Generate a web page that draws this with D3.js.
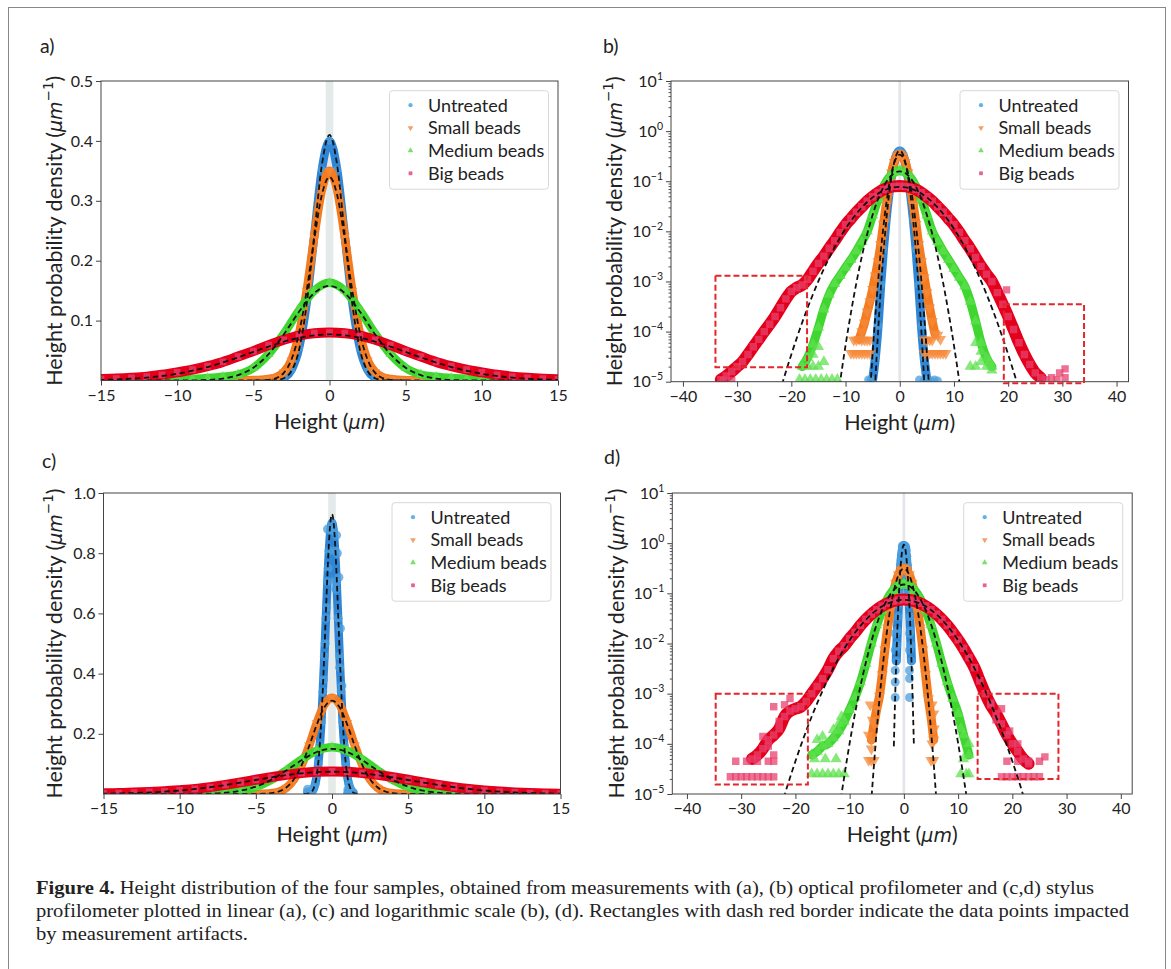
<!DOCTYPE html>
<html>
<head>
<meta charset="utf-8">
<script src="https://cdn.jsdelivr.net/npm/d3@7"></script>
<style>
  body { margin: 0; background: #fff; }
  svg { display: block; }
</style>
</head>
<body>
<script>
// ---- data ----
const seriesNames = ["Untreated", "Small beads", "Medium beads", "Big beads"];

const xTicksLin = [-15, -10, -5, 0, 5, 10, 15];
const xTicksLog = [-40, -30, -20, -10, 0, 10, 20, 30, 40];
const yTicksA = [0.1, 0.2, 0.3, 0.4, 0.5];
const yTicksC = [0.2, 0.4, 0.6, 0.8, 1.0];
const yDecades = [-5, -4, -3, -2, -1, 0, 1];
const minorMultipliers = [2, 3, 4, 5, 6, 7, 8, 9];
const zeroBand = [-0.25, 0.25];

// optical profilometer (panels a, b): dense point bands and scattered tail points
const optUntreated = [[-5,1.1e-5],[-4.5,3e-5],[-4,1.3e-4],[-3.5,8.7e-4],[-3,0.0044],[-2.5,0.0175],[-2,0.054],[-1.5,0.13],[-1,0.242],[-0.5,0.352],[0,0.40],[0.5,0.352],[1,0.242],[1.5,0.13],[2,0.054],[2.5,0.0175],[3,0.0044],[3.5,8.7e-4],[4,1.3e-4],[4.5,3e-5],[5,1.1e-5]];
const optUntreatedTail = [[-5.8,1.1e-5],[-5.4,1.05e-5],[3.6,1.1e-5],[4.4,1.05e-5],[5.2,1.1e-5],[5.8,1.05e-5],[6.4,1.1e-5],[7.0,1.05e-5]];
const optSmall = [[-7.5,7e-5],[-7,1e-4],[-6.5,1.5e-4],[-6,2.5e-4],[-5.5,4e-4],[-5,7e-4],[-4.5,0.0013],[-4,0.0025],[-3.5,0.0055],[-3,0.014],[-2.5,0.034],[-2,0.078],[-1.5,0.15],[-1,0.24],[-0.5,0.318],[0,0.35],[0.5,0.318],[1,0.24],[1.5,0.15],[2,0.078],[2.5,0.034],[3,0.014],[3.5,0.0055],[4,0.0025],[4.5,0.0012],[5,6e-4],[5.5,3e-4],[6,1.6e-4],[6.5,9e-5]];
const optSmallTail = [[-9,3.7e-5],[-8.5,3.7e-5],[-8,3.7e-5],[-7.5,3.7e-5],[-7,3.7e-5],[-6.5,3.7e-5],[-6,3.7e-5],[-5.5,3.7e-5],[-8.5,6.8e-5],[-8,6.8e-5],[-7,6.8e-5],[-6.5,6.8e-5],[-6,6.8e-5],[-5.5,6.8e-5],[4.5,6.8e-5],[5,6.8e-5],[5.5,6.8e-5],[6,6.8e-5],[7,8.5e-5],[7.5,7e-5],[4.5,3.7e-5],[5,3.7e-5],[5.5,3.7e-5],[6,3.7e-5],[6.5,3.7e-5],[7,3.7e-5],[7.5,3.7e-5],[8,3.7e-5],[8.5,3.7e-5]];
const optMedium = [[-18,2e-5],[-17,3e-5],[-16,5.5e-5],[-15,1.2e-4],[-14,2.8e-4],[-13,5.5e-4],[-12,9e-4],[-11,0.0013],[-10,0.0019],[-9,0.0027],[-8,0.0040],[-7,0.0062],[-6,0.0100],[-5,0.021],[-4,0.044],[-3,0.078],[-2,0.117],[-1,0.150],[0,0.163],[1,0.150],[2,0.117],[3,0.078],[4,0.044],[5,0.021],[6,0.0100],[7,0.0062],[8,0.0040],[9,0.0027],[10,0.0018],[11,0.0012],[12,8e-4],[13,4e-4],[14,1.6e-4],[15,6e-5],[16,3e-5],[17,2e-5]];
const optMediumTail = [[-18.5,1.1e-5],[-17.5,1.1e-5],[-16.5,1.1e-5],[-15.5,1.1e-5],[-14.5,1.1e-5],[-13.5,1.1e-5],[-12.5,1.1e-5],[-11.5,1.1e-5],[-17,2e-5],[-16,2e-5],[-15,2e-5],[-14,2.5e-5],[-16,3.5e-5],[-15,5e-5],[13,2e-5],[14,2e-5],[15,2.5e-5],[16,2e-5],[17,1.7e-5],[15,4e-5],[14,6e-5],[16.5,2.5e-5]];
const optBig = [[-33,1.1e-5],[-32,1.3e-5],[-31,1.6e-5],[-30,2e-5],[-29,2.5e-5],[-28,3.5e-5],[-27,5e-5],[-26,7e-5],[-25,1e-4],[-24,1.4e-4],[-23,2e-4],[-22,3e-4],[-21,4.5e-4],[-20,6.3e-4],[-19,7.5e-4],[-18,8.5e-4],[-17,0.0011],[-16,0.0016],[-15,0.0023],[-14,0.0032],[-13,0.0046],[-12,0.0065],[-11,0.0095],[-10,0.0135],[-9,0.018],[-8,0.024],[-7,0.031],[-6,0.040],[-5,0.049],[-4,0.059],[-3,0.068],[-2,0.075],[-1,0.079],[0,0.080],[1,0.079],[2,0.075],[3,0.068],[4,0.059],[5,0.049],[6,0.040],[7,0.031],[8,0.024],[9,0.018],[10,0.0135],[11,0.0095],[12,0.0065],[13,0.0045],[14,0.003],[15,0.002],[16,0.0014],[17,0.001],[18,6e-4],[19,3.5e-4],[20,2e-4],[21,1.1e-4],[22,6e-5],[23,3.5e-5],[24,2.2e-5],[25,1.5e-5],[26,1.2e-5]];
const optBigTail = [[19.7,6.8e-4],[27,1.1e-5],[28,1.2e-5],[29,1.1e-5],[29.5,1.5e-5],[30.5,1.8e-5],[30.5,1.2e-5],[-32.5,1.05e-5],[-31,1.05e-5]];

// gaussian fits (dashed), optical
const optFitUntreated = [[-5,9e-7],[-4.5,1.07e-5],[-4,9.9e-5],[-3.5,6.9e-4],[-3,0.00377],[-2.5,0.0158],[-2,0.051],[-1.5,0.127],[-1,0.2435],[-0.5,0.36],[0,0.41],[0.5,0.36],[1,0.2435],[1.5,0.127],[2,0.051],[2.5,0.0158],[3,0.00377],[3.5,6.9e-4],[4,9.9e-5],[4.5,1.07e-5],[5,9e-7]];
const optFitSmall = [[-6,6.7e-7],[-5.5,5.4e-6],[-5,3.7e-5],[-4.5,2.08e-4],[-4,9.9e-4],[-3.5,0.00388],[-3,0.0127],[-2.5,0.0347],[-2,0.0789],[-1.5,0.1495],[-1,0.236],[-0.5,0.31],[0,0.34],[0.5,0.31],[1,0.236],[1.5,0.1495],[2,0.0789],[2.5,0.0347],[3,0.0127],[3.5,0.00388],[4,9.9e-4],[4.5,2.08e-4],[5,3.7e-5],[5.5,5.4e-6],[6,6.7e-7]];
const optFitMedium = [[-12,1.56e-6],[-11,9.9e-6],[-10,5.3e-5],[-9,2.4e-4],[-8,9.4e-4],[-7,0.00313],[-6,0.00887],[-5,0.0214],[-4,0.0439],[-3,0.0769],[-2,0.1147],[-1,0.146],[0,0.158],[1,0.146],[2,0.1147],[3,0.0769],[4,0.0439],[5,0.0214],[6,0.00887],[7,0.00313],[8,9.4e-4],[9,2.4e-4],[10,5.3e-5],[11,9.9e-6],[12,1.56e-6]];
const optFitBig = [[-24,1.2e-6],[-22,7e-6],[-20,3.5e-5],[-18,1.52e-4],[-16,5.6e-4],[-14,0.00178],[-12,0.00483],[-10,0.01125],[-8,0.0225],[-6,0.0385],[-4,0.0566],[-2,0.0713],[0,0.077],[2,0.0713],[4,0.0566],[6,0.0385],[8,0.0225],[10,0.01125],[12,0.00483],[14,0.00178],[16,5.6e-4],[18,1.52e-4],[20,3.5e-5],[22,7e-6],[24,1.2e-6]];

// stylus profilometer (panels c, d)
const stUntreated = [[-1.4,0.0045],[-1.3,0.0093],[-1.2,0.018],[-1.1,0.034],[-1,0.06],[-0.9,0.101],[-0.8,0.16],[-0.7,0.239],[-0.6,0.34],[-0.5,0.458],[-0.4,0.584],[-0.3,0.706],[-0.2,0.808],[-0.1,0.876],[0,0.90],[0.1,0.876],[0.2,0.808],[0.3,0.706],[0.4,0.584],[0.5,0.458],[0.6,0.34],[0.7,0.239],[0.8,0.16],[0.9,0.101],[1,0.06],[1.1,0.034],[1.2,0.018],[1.3,0.0093],[1.4,0.0045]];
const stUntreatedTail = [[-0.3,0.88],[-0.25,0.75],[0.3,0.86],[0.35,0.8],[0.25,0.68],[-0.35,0.62],[0.45,0.72],[-0.45,0.5],[0.55,0.55],[0.5,0.42],[-0.55,0.38],[0.65,0.36],[-1.6,0.0158],[1.05,0.0158],[-1.6,0.0074],[1.05,0.0074],[-1.6,0.0029],[1.05,0.0029],[-1.6,0.0017],[1.05,0.002],[-1.6,8.4e-4],[1.05,8.4e-4]];
const stSmall = [[-6,1.2e-4],[-5.5,2.5e-4],[-5,5e-4],[-4.5,9e-4],[-4,0.0024],[-3.5,0.0076],[-3,0.0206],[-2.5,0.0477],[-2,0.0945],[-1.5,0.161],[-1,0.236],[-0.5,0.297],[0,0.32],[0.5,0.297],[1,0.236],[1.5,0.161],[2,0.0945],[2.5,0.0477],[3,0.0206],[3.5,0.0076],[4,0.0024],[4.5,8e-4],[5,3.5e-4],[5.5,1.2e-4]];
const stSmallTail = [[-6.5,4.7e-5],[-6,4.7e-5],[-5.5,4.7e-5],[-6,8e-5],[-6.5,1.5e-4],[-5.8,3e-4],[-6.2,6e-4],[5,4.7e-5],[5.5,4.7e-5],[5.2,1e-4],[5.6,2e-4],[5.2,6e-4],[5.5,4e-4]];
const stMedium = [[-17,6e-5],[-16,7e-5],[-15,9e-5],[-14,1e-4],[-13,1.3e-4],[-12,1.8e-4],[-11,2.8e-4],[-10,4.8e-4],[-9,8.5e-4],[-8,0.0017],[-7,0.0040],[-6,0.0101],[-5,0.0233],[-4,0.0461],[-3,0.0784],[-2,0.1145],[-1,0.1437],[0,0.155],[1,0.1437],[2,0.1145],[3,0.0784],[4,0.0461],[5,0.0233],[6,0.0101],[7,0.0040],[8,0.0017],[9,8e-4],[10,4e-4],[11,1.5e-4],[12,6e-5]];
const stMediumTail = [[-17,2.5e-5],[-16,2.5e-5],[-15,2.5e-5],[-14,2.5e-5],[-13,2.5e-5],[-12,2.5e-5],[-11,2.5e-5],[-16,1.2e-4],[-15,1.4e-4],[-13,1.9e-4],[-12,2.5e-4],[-11.5,3.5e-4],[-16.5,5e-5],[-14.5,5e-5],[-12.5,5e-5],[10.5,2.5e-5],[11.5,2.5e-5],[12,2.5e-5],[11,5e-5],[12,1e-4],[10.5,2e-4]];
const stBig = [[-28,5e-5],[-27,6e-5],[-26,8e-5],[-25,1.2e-4],[-24,1.5e-4],[-23,2e-4],[-22,3.5e-4],[-21,4.5e-4],[-20,5e-4],[-19,5.5e-4],[-18,7e-4],[-17,0.001],[-16,0.0014],[-15,0.002],[-14,0.003],[-13,0.005],[-12,0.007],[-11,0.009],[-10,0.0125],[-9,0.0167],[-8,0.0229],[-7,0.0303],[-6,0.0385],[-5,0.0472],[-4,0.0558],[-3,0.0635],[-2,0.0697],[-1,0.0736],[0,0.075],[1,0.0736],[2,0.0697],[3,0.0635],[4,0.0558],[5,0.0472],[6,0.0385],[7,0.0303],[8,0.0229],[9,0.0167],[10,0.0118],[11,0.008],[12,0.0052],[13,0.0033],[14,0.0018],[15,0.001],[16,6e-4],[17,4e-4],[18,2.5e-4],[19,1.5e-4],[20,1e-4],[21,7e-5],[22,5e-5],[23,4e-5]];
const stBigTail = [[-32,2.2e-5],[-31,2.2e-5],[-30,2.2e-5],[-29,2.2e-5],[-28,2.2e-5],[-27,2.2e-5],[-26,2.2e-5],[-25,2.2e-5],[-24,2.2e-5],[-31,4.5e-5],[-29,4.5e-5],[-27,4.5e-5],[-25,4.5e-5],[-24,4.5e-5],[-26,1.4e-4],[-25,9e-5],[-23,2.8e-4],[-24,6e-5],[-22,6e-4],[-24,5.5e-4],[-21,8e-4],[18,2.2e-5],[19,2.2e-5],[20,2.2e-5],[21,2.2e-5],[22,2.2e-5],[23,2.2e-5],[24,2.2e-5],[25,2.2e-5],[19,4.5e-5],[21,4.5e-5],[23,4.5e-5],[25,4.5e-5],[26,5.5e-5],[17,3e-4],[18,5e-4],[16,6.5e-4],[19.5,1.8e-4],[21,1e-4]];

// gaussian fits (dashed), stylus
const stFitUntreated = [[-1.85,8.9e-5],[-1.8,1.46e-4],[-1.6,9.2e-4],[-1.4,0.0046],[-1.2,0.019],[-1,0.0625],[-0.9,0.104],[-0.8,0.165],[-0.7,0.247],[-0.6,0.352],[-0.5,0.473],[-0.4,0.604],[-0.3,0.729],[-0.2,0.835],[-0.1,0.905],[0,0.93],[0.1,0.905],[0.2,0.835],[0.3,0.729],[0.4,0.604],[0.5,0.473],[0.6,0.352],[0.7,0.247],[0.8,0.165],[0.9,0.104],[1,0.0625],[1.2,0.019],[1.4,0.0046],[1.6,9.2e-4],[1.8,1.46e-4],[1.85,8.9e-5]];
const stFitSmall = [[-6.5,1.15e-6],[-6,7.4e-6],[-5.5,4e-5],[-5,1.9e-4],[-4.5,7.75e-4],[-4,0.00273],[-3.5,0.00828],[-3,0.0216],[-2.5,0.0489],[-2,0.095],[-1.5,0.159],[-1,0.2305],[-0.5,0.288],[0,0.31],[0.5,0.288],[1,0.2305],[1.5,0.159],[2,0.095],[2.5,0.0489],[3,0.0216],[3.5,0.00828],[4,0.00273],[4.5,7.75e-4],[5,1.9e-4],[5.5,4e-5],[6,7.4e-6],[6.5,1.15e-6]];
const stFitMedium = [[-13,6.8e-7],[-12,4.2e-6],[-11,2.2e-5],[-10,1.03e-4],[-9,4.1e-4],[-8,0.00142],[-7,0.00423],[-6,0.0109],[-5,0.0243],[-4,0.0468],[-3,0.0779],[-2,0.112],[-1,0.1395],[0,0.15],[1,0.1395],[2,0.112],[3,0.0779],[4,0.0468],[5,0.0243],[6,0.0109],[7,0.00423],[8,0.00142],[9,4.1e-4],[10,1.03e-4],[11,2.2e-5],[12,4.2e-6],[13,6.8e-7]];
const stFitBig = [[-24,1.7e-6],[-22,9.5e-6],[-20,4.5e-5],[-18,1.83e-4],[-16,6.4e-4],[-14,0.00196],[-12,0.00514],[-10,0.0116],[-8,0.0226],[-6,0.038],[-4,0.0551],[-2,0.0687],[0,0.074],[2,0.0687],[4,0.0551],[6,0.038],[8,0.0226],[10,0.0116],[12,0.00514],[14,0.00196],[16,6.4e-4],[18,1.83e-4],[20,4.5e-5],[22,9.5e-6],[24,1.7e-6]];

// dashed red boxes marking artifacts: [x0, x1, yTop, yBottom]
const artifactsB = [[-34.0, -17.1, 1.3e-3, 1.95e-5], [19.2, 34.0, 3.5e-4, 9.3e-6]];
const artifactsD = [[-34.7, -17.7, 1e-3, 1.55e-5], [13.6, 28.5, 1e-3, 2.0e-5]];

const captionLines = [
  ["Figure 4.", " Height distribution of the four samples, obtained from measurements with (a), (b) optical profilometer and (c,d) stylus"],
  ["", "profilometer plotted in linear (a), (c) and logarithmic scale (b), (d). Rectangles with dash red border indicate the data points impacted"],
  ["", "by measurement artifacts."]
];

// ---- styles ----
const bandColors = ["#2f86d6", "#f47b20", "#3fd62f", "#e4001b"];
const tailColors = ["#4a9fe0", "#f58a3a", "#5fe04f", "#e8406e"];
const legendColors = ["#5fb6e3", "#f3a06c", "#79e06a", "#e6638c"];
const symbolTypes = [d3.symbolCircle, d3.symbolTriangle, d3.symbolTriangle, d3.symbolSquare];
const symbolRot = [0, 180, 0, 0];
const font = "Lato, 'Open Sans', sans-serif";

const W = 1171, H = 969;
const svg = d3.select("body").append("svg").attr("width", W).attr("height", H);

svg.append("rect").attr("x", 8.5).attr("y", 7.5).attr("width", 1157).attr("height", 980)
  .attr("fill", "none").attr("stroke", "#888").attr("stroke-width", 1);

const optData = { bands: [optUntreated, optSmall, optMedium, optBig], tails: [optUntreatedTail, optSmallTail, optMediumTail, optBigTail], fits: [optFitUntreated, optFitSmall, optFitMedium, optFitBig] };
const stData = { bands: [stUntreated, stSmall, stMedium, stBig], tails: [stUntreatedTail, stSmallTail, stMediumTail, stBigTail], fits: [stFitUntreated, stFitSmall, stFitMedium, stFitBig] };

const panels = [
  { label: "a)", lx: 40, ly: 53, left: 101, right: 558, top: 81, bottom: 380.5, log: false, xDomain: [-15, 15], yDomain: [0, 0.5], xTicks: xTicksLin, yTicks: yTicksA, data: optData, boxes: [], ylabX: 54 },
  { label: "b)", lx: 603, ly: 53, left: 671, right: 1128.5, top: 81, bottom: 381.7, log: true, xDomain: [-42.2, 42.2], yDomain: [1e-5, 10], xTicks: xTicksLog, data: optData, boxes: artifactsB, ylabX: 614 },
  { label: "c)", lx: 42, ly: 468, left: 103.5, right: 560.5, top: 493, bottom: 794, log: false, xDomain: [-15, 15], yDomain: [0, 1.0], xTicks: xTicksLin, yTicks: yTicksC, data: stData, boxes: [], ylabX: 54 },
  { label: "d)", lx: 604, ly: 464, left: 672.3, right: 1132.2, top: 493, bottom: 794, log: true, xDomain: [-42.7, 42.1], yDomain: [1e-5, 10], xTicks: xTicksLog, data: stData, boxes: artifactsD, ylabX: 616 }
];

panels.forEach((p, i) => {
  const x = d3.scaleLinear().domain(p.xDomain).range([p.left, p.right]);
  const y = (p.log ? d3.scaleLog() : d3.scaleLinear()).domain(p.yDomain).range([p.bottom, p.top]);
  const g = svg.append("g");

  const clipId = "clip" + i;
  svg.append("clipPath").attr("id", clipId).append("rect")
    .attr("x", p.left).attr("y", p.top).attr("width", p.right - p.left).attr("height", p.bottom - p.top);
  const plot = g.append("g").attr("clip-path", `url(#${clipId})`);

  plot.append("rect")
    .attr("x", x(zeroBand[0])).attr("width", Math.max(1, x(zeroBand[1]) - x(zeroBand[0])))
    .attr("y", p.top).attr("height", p.bottom - p.top)
    .attr("fill", p.log ? "#e3e6e8" : "#e4e9e9");

  const line = d3.line().x(d => x(d[0])).y(d => y(d[1])).curve(d3.curveMonotoneX);

  p.data.bands.forEach((band, k) => {
    const sw = p.log ? (k === 3 ? 12 : 9) : (k === 3 ? 10 : 8.5);
    plot.append("path").datum(band)
      .attr("d", line).attr("fill", "none")
      .attr("stroke", bandColors[k]).attr("stroke-width", sw)
      .attr("stroke-linejoin", "round").attr("stroke-linecap", "round");
    const sym = d3.symbol().type(symbolTypes[k]).size(k === 0 && p.data === stData ? 64 : (p.log ? 55 : 45));
    plot.append("g").selectAll("path").data(band.concat(p.data.tails[k])).join("path")
      .attr("d", sym)
      .attr("transform", d => `translate(${x(d[0])},${y(d[1])}) rotate(${symbolRot[k]})`)
      .attr("fill", tailColors[k]).attr("fill-opacity", 0.75);
  });

  p.data.fits.forEach(fit => {
    plot.append("path").datum(fit)
      .attr("d", line).attr("fill", "none")
      .attr("stroke", "#111").attr("stroke-width", 1.8)
      .attr("stroke-dasharray", "5.5,3.5");
  });

  // axes
  const xAxis = d3.axisBottom(x).tickValues(p.xTicks).tickSize(5).tickPadding(4);
  const gx = g.append("g").attr("transform", `translate(0,${p.bottom})`).call(xAxis);
  let gy;
  if (p.log) {
    const majors = yDecades.map(e => Math.pow(10, e));
    const minors = yDecades.slice(0, -1).flatMap(e => minorMultipliers.map(m => m * Math.pow(10, e)));
    g.append("g").attr("transform", `translate(${p.left},0)`)
      .call(d3.axisLeft(y).tickValues(minors).tickSize(2.5).tickFormat(""))
      .call(a => a.select(".domain").remove())
      .selectAll("line").attr("stroke", "#555");
    gy = g.append("g").attr("transform", `translate(${p.left},0)`)
      .call(d3.axisLeft(y).tickValues(majors).tickSize(5).tickPadding(3).tickFormat(""));
    gy.selectAll(".tick text").each(function (d) {
      const e = Math.round(Math.log10(d));
      const t = d3.select(this);
      t.append("tspan").text("10");
      t.append("tspan").attr("font-size", 10.5).attr("dy", -7).text(e < 0 ? "\u2212" + (-e) : String(e));
    });
  } else {
    gy = g.append("g").attr("transform", `translate(${p.left},0)`)
      .call(d3.axisLeft(y).tickValues(p.yTicks).tickSize(5).tickPadding(3).tickFormat(d3.format(".1f")));
  }
  [gx, gy].forEach(a => {
    a.select(".domain").remove();
    a.selectAll("line").attr("stroke", "#444");
    a.selectAll("text").attr("font-family", font).attr("font-size", 16).attr("fill", "#222");
  });

  // spines
  g.append("rect").attr("x", p.left).attr("y", p.top)
    .attr("width", p.right - p.left).attr("height", p.bottom - p.top)
    .attr("fill", "none").attr("stroke", "#444").attr("stroke-width", 1);

  // artifact boxes
  g.append("g").selectAll("rect").data(p.boxes).join("rect")
    .attr("x", d => x(d[0])).attr("width", d => x(d[1]) - x(d[0]))
    .attr("y", d => y(d[2])).attr("height", d => y(d[3]) - y(d[2]))
    .attr("fill", "none").attr("stroke", "#e3262b").attr("stroke-width", 2)
    .attr("stroke-dasharray", "6,3");

  // labels
  g.append("text").attr("x", p.lx).attr("y", p.ly).text(p.label)
    .attr("font-family", font).attr("font-size", 19.5).attr("fill", "#222");

  const xl = g.append("text").attr("x", (p.left + p.right) / 2).attr("y", p.bottom + 48)
    .attr("text-anchor", "middle").attr("font-family", font).attr("font-size", 21.5).attr("fill", "#222");
  xl.append("tspan").text("Height (");
  xl.append("tspan").attr("font-family", "'DejaVu Sans'").attr("font-style", "italic").attr("font-size", 19).text("\u00B5m");
  xl.append("tspan").text(")");

  const cy = (p.top + p.bottom) / 2;
  const yl = g.append("text").attr("transform", `translate(${p.ylabX + 8},${cy}) rotate(-90)`)
    .attr("text-anchor", "middle").attr("font-family", font).attr("font-size", 21.5).attr("fill", "#222");
  yl.append("tspan").text("Height probability density (");
  yl.append("tspan").attr("font-family", "'DejaVu Sans'").attr("font-style", "italic").attr("font-size", 19).text("\u00B5m");
  yl.append("tspan").attr("font-family", "'DejaVu Sans'").attr("font-size", 13.5).attr("dy", -9).text("\u2212" + "1");
  yl.append("tspan").attr("dy", 9).text(")");

  // legend
  const lw = 159, lh = 98.5;
  const lg = g.append("g").attr("transform", `translate(${p.right - 9.5 - lw},${p.top + 9.7})`);
  lg.append("rect").attr("width", lw).attr("height", lh).attr("rx", 3)
    .attr("fill", "#fff").attr("fill-opacity", 0.85).attr("stroke", "#d8d8d8");
  seriesNames.forEach((name, k) => {
    const yy = 14.5 + k * 22.7;
    lg.append("path").attr("d", d3.symbol().type(symbolTypes[k]).size(14))
      .attr("transform", `translate(21,${yy}) rotate(${symbolRot[k]})`)
      .attr("fill", legendColors[k]);
    lg.append("text").attr("x", 38.5).attr("y", yy).attr("dy", "0.36em").text(name)
      .attr("font-family", font).attr("font-size", 18).attr("fill", "#222");
  });
});

// caption
const cap = svg.append("g").attr("font-family", "'Liberation Serif', serif").attr("font-size", 18).attr("fill", "#222");
const capEnds = [1094, 1129, 248];
captionLines.forEach((ln, i) => {
  const t = cap.append("text").attr("x", 36).attr("y", 894 + i * 23)
    .attr("textLength", capEnds[i] - 36).attr("lengthAdjust", "spacingAndGlyphs");
  if (ln[0]) t.append("tspan").attr("font-weight", "bold").text(ln[0]);
  t.append("tspan").text(ln[1]);
});
</script>
</body>
</html>
